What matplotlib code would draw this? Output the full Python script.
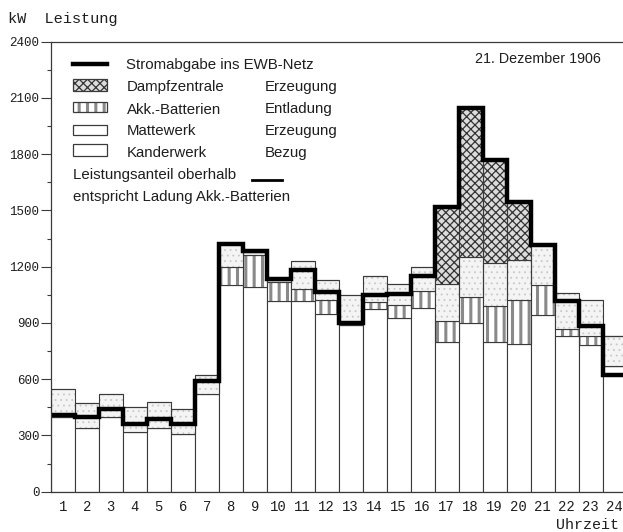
import numpy as np
import matplotlib
matplotlib.use("Agg")
import matplotlib.pyplot as plt
from matplotlib.patches import Rectangle
from matplotlib.lines import Line2D

# Stundenwerte 21. Dezember 1906 (kW)
stunden = list(range(1, 25))
kanderwerk = [400, 338, 400, 320, 338, 310, 520, 1100, 1090, 1015, 1015, 950,
              890, 975, 925, 980, 800, 900, 800, 790, 940, 830, 780, 670]
akku = [0, 0, 0, 0, 0, 0, 0, 100, 175, 105, 65, 75,
        0, 35, 70, 90, 110, 140, 190, 230, 160, 40, 50, 0]
mattewerk = [150, 133, 120, 130, 142, 130, 100, 120, 15, 10, 150, 105,
             160, 140, 115, 130, 200, 210, 230, 215, 215, 190, 190, 160]
dampf = [0, 0, 0, 0, 0, 0, 0, 0, 0, 0, 0, 0,
         0, 0, 0, 0, 410, 795, 550, 310, 0, 0, 0, 0]
netz = [410, 400, 440, 362, 386, 362, 592, 1320, 1282, 1132, 1182, 1066,
        902, 1050, 1056, 1150, 1518, 2045, 1770, 1545, 1316, 1016, 885, 622]

W, H = 623, 532
ink = "#1e1e1e"
kante = "#3a3a3a"
mono = "Liberation Mono"
sans = "Liberation Sans"


def fx(px):
    return px / W


def fy(py):
    return 1 - py / H


fig = plt.figure(figsize=(W / 100, H / 100), dpi=100)
ax = fig.add_axes([fx(50.7), fy(491.7), 576 / W, 450 / H])

x = np.array(stunden)
k = np.array(kanderwerk)
a = np.array(akku)
m = np.array(mattewerk)
d = np.array(dampf)

# Kanderwerk
ax.bar(x, k, width=1.0, color="white", edgecolor=kante, linewidth=0.8)
# Akku-Entladung, senkrecht schraffiert
with plt.rc_context({"hatch.linewidth": 2.2}):
    ax.bar(x, a, bottom=k, width=1.0, color="white", edgecolor="#8a8a8a",
           linewidth=0, hatch="||")
ax.bar(x, a, bottom=k, width=1.0, fill=False, edgecolor=kante, linewidth=0.8)
# Mattewerk, leicht punktiert
with plt.rc_context({"hatch.linewidth": 0.6}):
    ax.bar(x, m, bottom=k + a, width=1.0, color="#f4f4f4", edgecolor="#c8c8c8",
           linewidth=0, hatch="...")
ax.bar(x, m, bottom=k + a, width=1.0, fill=False, edgecolor=kante, linewidth=0.8)
# Dampfzentrale
with plt.rc_context({"hatch.linewidth": 0.9}):
    ax.bar(x, d, bottom=k + a + m, width=1.0, color="#dcdcdc", edgecolor="#333333",
           linewidth=0, hatch="xxxx")
ax.bar(x, d, bottom=k + a + m, width=1.0, fill=False, edgecolor=kante, linewidth=0.8)

# Stromabgabe ins Netz
ax.stairs(netz, np.arange(0.5, 25.5), baseline=None, color="black", linewidth=3.2)

ax.set_xlim(0.5, 24.5)
ax.set_ylim(0, 2400)
ax.set_xticks(stunden)
ax.set_xticklabels([str(s) for s in stunden], fontfamily=mono, fontsize=10, color=ink)
ax.tick_params(axis="x", length=0, pad=6)
ax.set_yticks(range(0, 2401, 300))
ax.set_yticks(range(150, 2400, 300), minor=True)
ax.set_yticklabels([str(v) for v in range(0, 2401, 300)], fontfamily=mono,
                   fontsize=9, color=ink)
ax.tick_params(axis="y", which="major", length=7, width=0.8, color=kante, pad=1)
ax.tick_params(axis="y", which="minor", length=3, width=0.8, color=kante)
for s in ["left", "bottom", "top"]:
    ax.spines[s].set_color(kante)
    ax.spines[s].set_linewidth(0.9)
ax.spines["right"].set_visible(False)

fig.text(fx(8), fy(18.5), "kW  Leistung", fontfamily=mono, fontsize=11,
         color=ink, va="center", ha="left")
fig.text(fx(619), fy(525), "Uhrzeit", fontfamily=mono, fontsize=10.8,
         color=ink, va="center", ha="right")
fig.text(fx(475), fy(59), "21. Dezember 1906", fontfamily=sans, fontsize=10.3,
         color=ink, va="center", ha="left")

# Legende
fig.add_artist(Line2D([fx(73), fx(107)], [fy(63.5), fy(63.5)], color="black",
                      linewidth=3.2, transform=fig.transFigure))
boxen = [
    (79, 90.7, "#dcdcdc", "#333333", "xxxx", 0.9),
    (102.3, 111.7, "white", "#8a8a8a", "||", 2.2),
    (125, 135, "white", None, None, 1.0),
    (143.5, 155.5, "white", None, None, 1.0),
]
for top, bot, fc, hc, hatch, hlw in boxen:
    if hatch:
        with plt.rc_context({"hatch.linewidth": hlw}):
            fig.add_artist(Rectangle((fx(73), fy(bot)), fx(107) - fx(73), fy(top) - fy(bot),
                                     facecolor=fc, edgecolor=hc, linewidth=0, hatch=hatch,
                                     transform=fig.transFigure))
    fig.add_artist(Rectangle((fx(73), fy(bot)), fx(107) - fx(73), fy(top) - fy(bot),
                             fill=False, edgecolor=kante, linewidth=0.9,
                             transform=fig.transFigure))

zeilen = [
    (65, "Stromabgabe ins EWB-Netz", ""),
    (87.3, "Dampfzentrale", "Erzeugung"),
    (109.5, "Akk.-Batterien", "Entladung"),
    (131, "Mattewerk", "Erzeugung"),
    (153, "Kanderwerk", "Bezug"),
]
for py, name, art in zeilen:
    fig.text(fx(126.5), fy(py), name, fontfamily=sans, fontsize=10.8, color=ink,
             va="center", ha="left")
    if art:
        fig.text(fx(265), fy(py), art, fontfamily=sans, fontsize=10.8, color=ink,
                 va="center", ha="left")
fig.text(fx(73), fy(175.5), "Leistungsanteil oberhalb", fontfamily=sans,
         fontsize=10.8, color=ink, va="center", ha="left")
fig.add_artist(Line2D([fx(252), fx(282)], [fy(180), fy(180)], color="black",
                      linewidth=2.0, transform=fig.transFigure))
fig.text(fx(73), fy(196.5), "entspricht Ladung Akk.-Batterien", fontfamily=sans,
         fontsize=10.8, color=ink, va="center", ha="left")

fig.savefig("out.png", dpi=100, facecolor="white")
